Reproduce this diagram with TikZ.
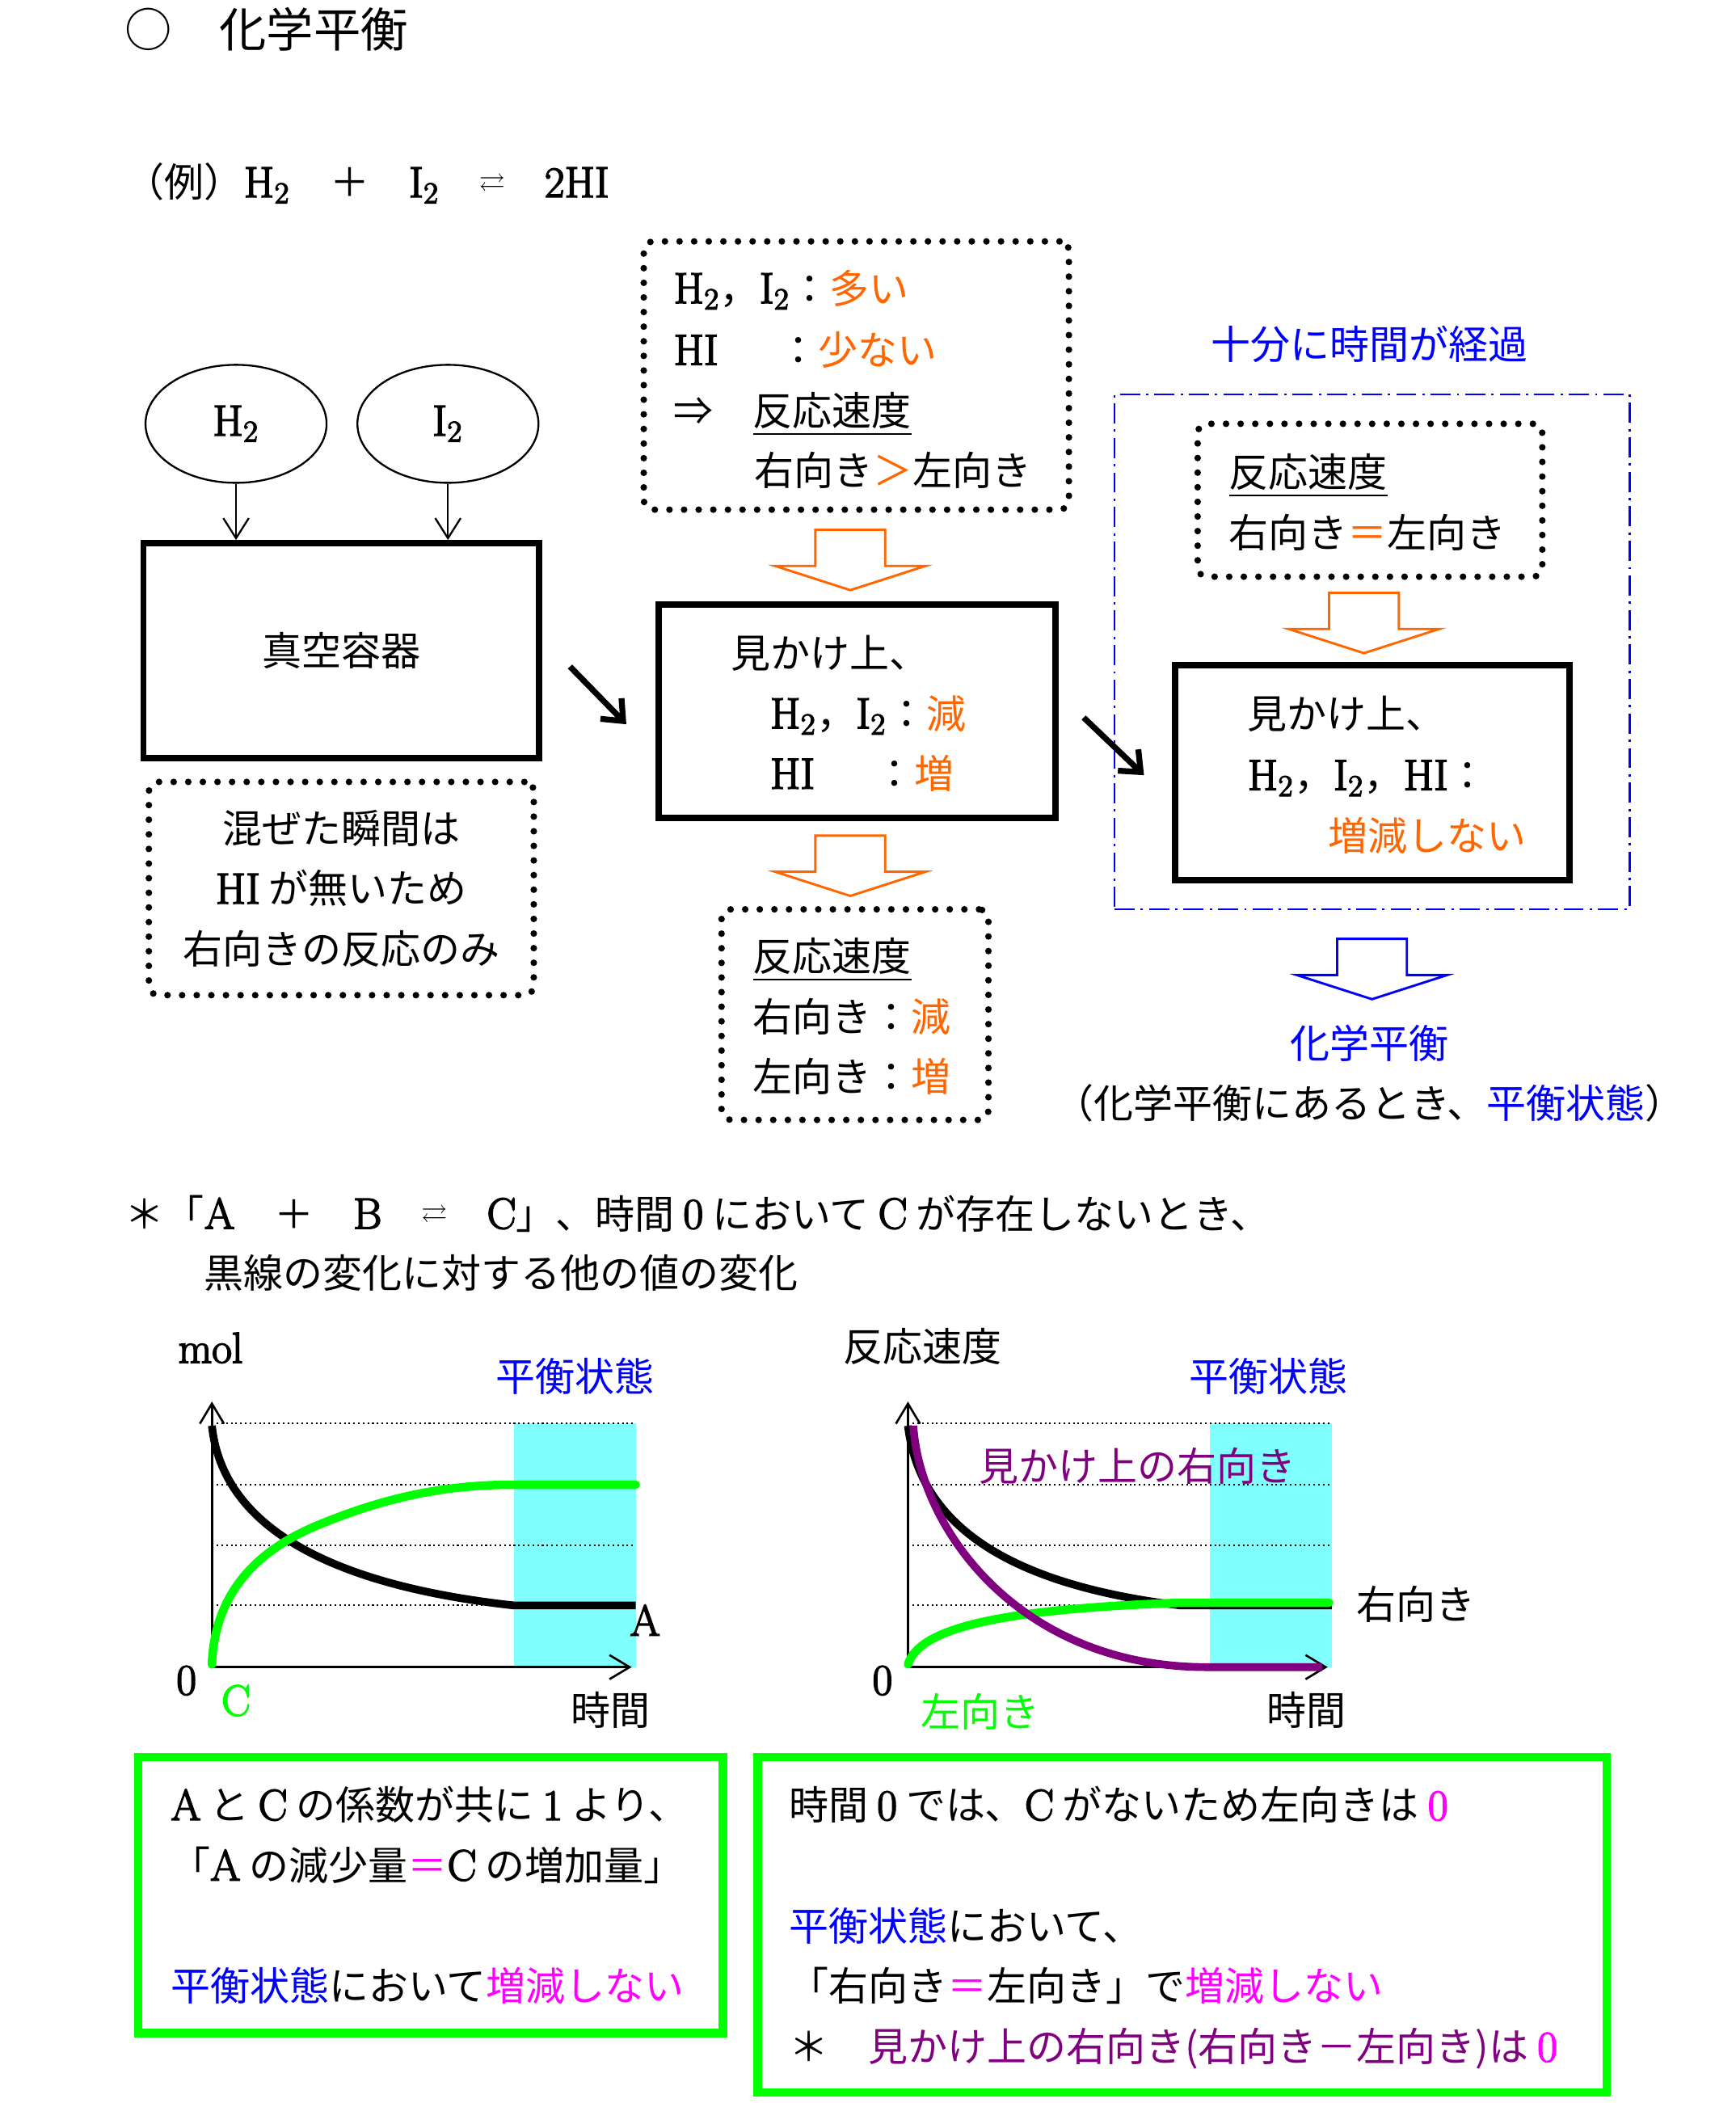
\documentclass[tikz,border=0pt]{standalone}
\usepackage{fontspec}
\usepackage{amssymb}
\setmainfont{Noto Sans CJK JP}
\newfontfamily\lmr{Latin Modern Roman}[FakeBold=3,Scale=1.1]
\usetikzlibrary{arrows.meta,shapes.geometric,calc}
\definecolor{orng}{HTML}{FF6600}
\definecolor{pblue}{HTML}{0000FF}
\definecolor{mgnt}{HTML}{FF00FF}
\definecolor{purp}{HTML}{800080}
\definecolor{lime}{HTML}{00FF00}
\definecolor{skycy}{HTML}{80FFFF}

\newcommand{\Htwo}{{\lmr H\textsubscript{2}}}
\newcommand{\Itwo}{{\lmr I\textsubscript{2}}}
\newcommand{\eqarr}{\raisebox{2.5pt}{\fontsize{11}{11}\selectfont$\rightleftarrows$}}

\tikzset{
  blockarrow/.pic={
    \draw[line width=1pt,line join=miter] (-26,0) -- (26,0) -- (26,27) -- (56,27) -- (0,45) -- (-56,27) -- (-26,27) -- cycle;
  }
}

\begin{document}
\begin{tikzpicture}[x=0.2mm,y=-0.2mm,
  every node/.style={font=\fontsize{16.8}{25.6}\selectfont,inner sep=0pt},
  dotbox/.style={draw,line width=2.8pt,dash pattern=on 0pt off 6.2pt,line cap=round,rounded corners=4pt},
  heavybox/.style={draw,line width=2.7pt},
  greenbox/.style={draw=lime,line width=3.6pt},
  thinarr/.style={->,>={Straight Barb[length=3mm,width=3.8mm]},line width=0.8pt},
  boldarr/.style={->,>={Straight Barb[length=2.6mm,width=4.4mm]},line width=2.5pt},
  guide/.style={line width=0.7pt,dash pattern=on 0.7pt off 1.3pt},
  axis/.style={->,>={Straight Barb[length=3mm,width=3.6mm]},line width=0.9pt}]
  \fill[white] (0,0) rectangle (1294,1568);
  \useasboundingbox (0,0) rectangle (1294,1568);

  \node[anchor=base west,font=\fontsize{20}{24}\selectfont] (title) at (93,35) {○　化学平衡};
  \node[anchor=base west] (example) at (93,147) {（例）\Htwo　＋　\Itwo　\eqarr　{\lmr 2HI}};

  % vessel and starting gases
  \node[draw,ellipse,line width=0.8pt,minimum width=27mm,minimum height=17.6mm] (h2) at (176,316) {\Htwo};
  \node[draw,ellipse,line width=0.8pt,minimum width=27mm,minimum height=17.6mm] (i2) at (334,316) {\Itwo};
  \node[heavybox,minimum width=59mm,minimum height=32mm] (vessel) at (254.5,485) {真空容器};
  \draw[thinarr] (h2) -- (h2 |- vessel.north);
  \draw[thinarr] (i2) -- (i2 |- vessel.north);
  \node[dotbox,minimum width=57.4mm,minimum height=31.8mm,align=center] (mixing) at (254.5,662.5) {混ぜた瞬間は\\{\lmr HI} が無いため\\右向きの反応のみ};

  % before
  \node[dotbox,minimum width=63.4mm,minimum height=40mm] (before) at (638.5,280) {};
  \node[anchor=base west] (b1) at (502,226) {\Htwo，\Itwo：\textcolor{orng}{多い}};
  \node[anchor=base west] (b2) at (502,272) {{\lmr HI}\hspace{9mm}：\textcolor{orng}{少ない}};
  \node[anchor=base west] (b3) at (502,317) {⇒　\underline{反応速度}};
  \node[anchor=base west] (b4) at (562,362) {右向き\textcolor{orng}{＞}左向き};
  \pic[orng] at (634,395) {blockarrow};

  % during
  \node[heavybox,minimum width=59.2mm,minimum height=31.8mm] (during) at (639,530.5) {};
  \node[anchor=base west] (m1) at (545,498) {見かけ上、};
  \node[anchor=base west] (m2) at (574,543) {\Htwo，\Itwo：\textcolor{orng}{減}};
  \node[anchor=base west] (m3) at (574,588) {{\lmr HI}\hspace{9mm}：\textcolor{orng}{増}};
  \pic[orng] at (634,623) {blockarrow};
  \node[dotbox,minimum width=39.8mm,minimum height=31.4mm] (ratemid) at (637.5,756.5) {};
  \node[anchor=base west] (r1) at (561,724) {\underline{反応速度}};
  \node[anchor=base west] (r2) at (561,769) {右向き：\textcolor{orng}{減}};
  \node[anchor=base west] (r3) at (561,814) {左向き：\textcolor{orng}{増}};

  \coordinate (d1s) at (425,497);
  \coordinate (d1e) at (467,540);
  \draw[boldarr] (d1s) -- (d1e);

  % after enough time
  \node[anchor=base,text=pblue] (longtime) at (1021,268) {十分に時間が経過};
  \node[draw=pblue,line width=0.9pt,dash pattern=on 3mm off 0.9mm on 0.35mm off 0.9mm,minimum width=76.8mm,minimum height=76.8mm] (eqzone) at (1023,486) {};
  \node[dotbox,minimum width=51.4mm,minimum height=22.8mm] (rateeq) at (1021.5,373) {};
  \node[anchor=base west] (e1) at (916,363) {\underline{反応速度}};
  \node[anchor=base west] (e2) at (916,408) {右向き\textcolor{orng}{＝}左向き};
  \pic[orng] at (1017,442) {blockarrow};
  \node[heavybox,minimum width=58.8mm,minimum height=32mm] (after) at (1023,576) {};
  \node[anchor=base west] (a1) at (930,543) {見かけ上、};
  \node[anchor=base west] (a2) at (930,589) {\Htwo，\Itwo，{\lmr HI}：};
  \node[anchor=base west] (a3) at (990,634) {\textcolor{orng}{増減しない}};

  \coordinate (d2s) at (808,535);
  \coordinate (d2e) at (853,578);
  \draw[boldarr] (d2s) -- (d2e);

  \pic[pblue] at (1023,700) {blockarrow};
  \node[anchor=base,text=pblue] (eqname) at (1021,789) {化学平衡};
  \node[anchor=base] (eqnote) at (1021,834) {（化学平衡にあるとき、\textcolor{pblue}{平衡状態}）};

  \node[anchor=base west] (note1) at (93,916) {＊「{\lmr A}　＋　{\lmr B}　\eqarr　{\lmr C}」、時間 {\lmr 0} において {\lmr C} が存在しないとき、};
  \node[anchor=base west] (note2) at (152,960) {黒線の変化に対する他の値の変化};

  % graph: amount
  \fill[skycy] (383,1061) rectangle (474,1243);
  \draw[guide] (158,1061) -- (473,1061);
  \draw[guide] (158,1107) -- (473,1107);
  \draw[guide] (158,1152) -- (473,1152);
  \draw[guide] (158,1197) -- (473,1197);
  \draw[axis] (158,1243) -- (158,1045);
  \draw[axis] (158,1243) -- (471,1243);
  \draw[line width=3.3pt] (158,1063) .. controls (165,1130) and (230,1180) .. (383,1197) -- (474,1197);
  \draw[lime,line width=3.6pt,line cap=round] (158,1241) .. controls (160,1185) and (195,1155) .. (235,1138) .. controls (285,1117) and (330,1107) .. (383,1107) -- (474,1107);
  \node (mol) at (157,1005) {\lmr mol};
  \node[text=pblue] (eqstate1) at (429,1026) {平衡状態};
  \node (labA) at (481,1208) {\lmr A};
  \node (zero1) at (139,1253) {\lmr 0};
  \node[text=lime] (labC) at (176,1268) {\lmr C};
  \node (time1) at (455,1275) {時間};

  % graph: rate
  \fill[skycy] (902,1061) rectangle (993,1243);
  \draw[guide] (677,1061) -- (992,1061);
  \draw[guide] (677,1107) -- (992,1107);
  \draw[guide] (677,1152) -- (992,1152);
  \draw[guide] (677,1197) -- (992,1197);
  \draw[axis] (677,1243) -- (677,1045);
  \draw[axis] (677,1243) -- (990,1243);
  \draw[line width=3.3pt] (677,1063) .. controls (685,1130) and (740,1180) .. (880,1197) -- (993,1197);
  \draw[lime,line width=3.6pt,line cap=round] (677,1241) .. controls (685,1215) and (740,1200) .. (880,1195) -- (991,1195);
  \draw[purp,line width=3.3pt] (681,1063) .. controls (686,1140) and (760,1243) .. (900,1243) -- (986,1243);
  \node (rate) at (688,1004) {反応速度};
  \node[text=pblue] (eqstate2) at (946,1026) {平衡状態};
  \node[text=purp] (netright) at (848,1093) {見かけ上の右向き};
  \node (labright) at (1056,1196) {右向き};
  \node (zero2) at (658,1253) {\lmr 0};
  \node[text=lime] (lableft) at (731,1276) {左向き};
  \node (time2) at (974,1275) {時間};

  % summaries
  \node[greenbox,minimum width=87.2mm,minimum height=41.2mm] (leftsum) at (321,1413) {};
  \node[anchor=base west] (s1) at (127,1357) {{\lmr A} と {\lmr C} の係数が共に {\lmr 1} より、};
  \node[anchor=base west] (s2) at (127,1402) {「{\lmr A} の減少量\textcolor{mgnt}{＝}{\lmr C} の増加量」};
  \node[anchor=base west] (s3) at (127,1492) {\textcolor{pblue}{平衡状態}において\textcolor{mgnt}{増減しない}};

  \node[greenbox,minimum width=126.6mm,minimum height=50mm] (rightsum) at (881.5,1435) {};
  \node[anchor=base west] (t1) at (588,1357) {時間 {\lmr 0} では、{\lmr C} がないため左向きは {\lmr\textcolor{mgnt}{0}}};
  \node[anchor=base west] (t2) at (588,1447) {\textcolor{pblue}{平衡状態}において、};
  \node[anchor=base west] (t3) at (588,1492) {「右向き\textcolor{mgnt}{＝}左向き」で\textcolor{mgnt}{増減しない}};
  \node[anchor=base west] (t4) at (588,1537) {＊　\textcolor{purp}{見かけ上の右向き(右向き－左向き)は} {\lmr\textcolor{mgnt}{0}}};
\end{tikzpicture}
\end{document}
